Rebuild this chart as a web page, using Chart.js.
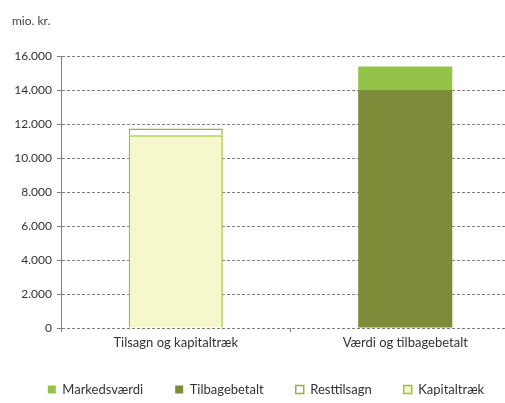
<!DOCTYPE html>
<html>
<head>
<meta charset="utf-8">
<script src="https://cdn.jsdelivr.net/npm/chart.js@4/dist/chart.umd.min.js"></script>
<style>
html,body{margin:0;padding:0;background:#fff;overflow:hidden;width:505px;height:403px;}
#wrap{position:relative;width:520px;height:403px;}
</style>
</head>
<body>
<div id="wrap"><canvas id="c"></canvas></div>
<script>
const categories = ["Tilsagn og kapitaltræk", "Værdi og tilbagebetalt"];
const kapitaltraek = [11350, null];
const resttilsagn = [400, null];
const tilbagebetalt = [null, 14050];
const markedsvaerdi = [null, 1350];
const yTicks = [0, 2000, 4000, 6000, 8000, 10000, 12000, 14000, 16000];

const fmt = v => String(v).replace(/\B(?=(\d{3})+(?!\d))/g, ".");
const gridColor = "#808080";
const FONT = "Lato, 'Open Sans', sans-serif";

new Chart(document.getElementById("c"), {
  type: "bar",
  data: {
    labels: categories,
    datasets: [
      {label: "Kapitaltræk", data: kapitaltraek, backgroundColor: "#f6f8cc", borderColor: "#9cc43a", borderWidth: 1.5},
      {label: "Resttilsagn", data: resttilsagn, backgroundColor: "#ffffff", borderColor: "#8fb83a", borderWidth: 1.5},
      {label: "Tilbagebetalt", data: tilbagebetalt, backgroundColor: "#7c8b37", borderWidth: 0},
      {label: "Markedsværdi", data: markedsvaerdi, backgroundColor: "#93c449", borderWidth: 0}
    ]
  },
  options: {
    responsive: true,
    maintainAspectRatio: false,
    animation: false,
    layout: {padding: {left: 12, right: 0, top: 14, bottom: -3}},
    datasets: {bar: {categoryPercentage: 1, barPercentage: 0.41, skipNull: true, grouped: false}},
    plugins: {
      title: {
        display: true, text: "mio. kr.", align: "start", color: "#444",
        font: {family: FONT, size: 12, weight: "normal"}, padding: {top: 0, bottom: 28}
      },
      legend: {
        position: "bottom", reverse: true,
        labels: {
          boxWidth: 8, boxHeight: 8, padding: 32, color: "#333",
          font: {family: FONT, size: 13}
        }
      },
      tooltip: {enabled: false}
    },
    scales: {
      x: {
        stacked: true,
        afterFit: s => { s.height = 23; },
        grid: {display: true, offset: true, drawOnChartArea: false, tickLength: 4, color: gridColor},
        border: {display: false},
        ticks: {color: "#333", font: {family: FONT, size: 13}, padding: 3}
      },
      y: {
        stacked: true, min: 0, max: 16000,
        afterFit: s => { s.width = 49; },
        afterBuildTicks: s => { s.ticks = yTicks.map(v => ({value: v})); },
        grid: {color: gridColor, tickLength: 4},
        border: {color: gridColor, dash: [3, 2]},
        ticks: {color: "#333", font: {family: FONT, size: 12}, padding: 5, callback: v => fmt(v)}
      }
    }
  }
});
</script>
</body>
</html>
